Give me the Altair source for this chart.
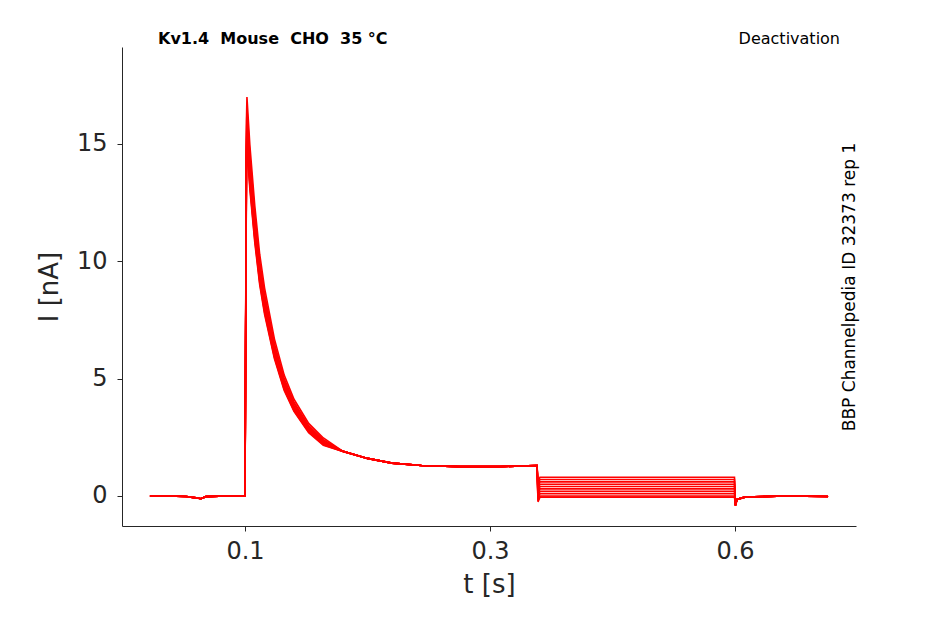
"""Kv1.4 deactivation current traces recreated with Altair."""

import pandas as pd
import altair as alt

# shared time base of the pulse (s) and the activation/inactivation current (nA)
pre_t = [0.003, 0.02, 0.04, 0.05, 0.055, 0.06, 0.08, 0.0995]
pre_i = [0.0, 0.0, -0.02, -0.08, -0.12, -0.03, 0.0, 0.0]
pulse_t = [0.1, 0.1015, 0.102, 0.105, 0.11, 0.115, 0.12, 0.13, 0.14, 0.15,
           0.165, 0.18, 0.2, 0.225, 0.25, 0.28, 0.32, 0.36, 0.398]
pulse_i = [0.0, 15.5, 16.5, 14.5, 12.0, 10.0, 8.6, 6.5, 5.0, 4.0,
           3.0, 2.4, 1.9, 1.6, 1.4, 1.3, 1.25, 1.25, 1.3]
post_t = [0.6005, 0.602, 0.61, 0.65, 0.695]
post_i = [-0.4, -0.15, -0.05, 0.0, -0.02]

# per-sweep values: peak scaling and deactivation tail level (nA)
sweep_ids = list(range(1, 11))
peak_scale = [1.03, 1.0, 0.98, 0.96, 0.95, 0.94, 0.93, 0.92, 0.91, 0.9]
tail_level = [0.8, 0.7, 0.6, 0.5, 0.4, 0.3, 0.2, 0.1, 0.0, -0.05]


def build_traces():
    rows = []
    for sid, k, tail in zip(sweep_ids, peak_scale, tail_level):
        for t, i in zip(pre_t, pre_i):
            rows.append({"sweep": sid, "t": t, "i": i})
        for t, i in zip(pulse_t, pulse_i):
            v = i * k if t < 0.2 else i
            rows.append({"sweep": sid, "t": t, "i": v})
        rows.append({"sweep": sid, "t": 0.399, "i": tail - 0.2})
        rows.append({"sweep": sid, "t": 0.401, "i": tail})
        rows.append({"sweep": sid, "t": 0.5, "i": tail})
        rows.append({"sweep": sid, "t": 0.5995, "i": tail})
        for t, i in zip(post_t, post_i):
            rows.append({"sweep": sid, "t": t, "i": i})
    return pd.DataFrame(rows)


df = build_traces()

lines = (
    alt.Chart(df)
    .mark_line(color="#ff0000", strokeWidth=1.6)
    .encode(
        x=alt.X("t:Q", title="t [s]",
                scale=alt.Scale(domain=[-0.0255, 0.7235], nice=False, zero=False),
                axis=alt.Axis(values=[0.1, 0.35, 0.6], format="~g", grid=False,
                              labelFontSize=24, titleFontSize=26, tickSize=5,
                              labelPadding=8, titlePadding=8)),
        y=alt.Y("i:Q", title="I [nA]",
                scale=alt.Scale(domain=[-1.28, 19.13], nice=False, zero=False),
                axis=alt.Axis(values=[0, 5, 10, 15], grid=False,
                              labelFontSize=24, titleFontSize=26, tickSize=5,
                              labelPadding=10, titlePadding=14)),
        detail="sweep:N",
        order="t:Q",
    )
)

font = "DejaVu Sans"
left_txt = alt.Chart(pd.DataFrame({"s": ["Kv1.4\u00a0\u00a0Mouse\u00a0\u00a0CHO\u00a0\u00a035 °C"]})).mark_text(
    align="left", baseline="middle", fontSize=16, fontWeight="bold", font=font,
    color="black").encode(x=alt.value(36), y=alt.value(-8), text="s:N")
right_txt = alt.Chart(pd.DataFrame({"s": ["Deactivation"]})).mark_text(
    align="right", baseline="middle", fontSize=16, font=font,
    color="black").encode(x=alt.value(718), y=alt.value(-8), text="s:N")
side_txt = alt.Chart(pd.DataFrame({"s": ["BBP Channelpedia ID 32373 rep 1"]})).mark_text(
    align="center", baseline="middle", fontSize=17, font=font, angle=270,
    color="black").encode(x=alt.value(728), y=alt.value(240), text="s:N")

chart = (
    alt.layer(lines, left_txt, right_txt, side_txt)
    .properties(width=734, height=479,
                autosize=alt.AutoSizeParams(type="none"),
                padding={"left": 114, "top": 39, "right": 80, "bottom": 90})
    .configure_view(stroke=None)
    .configure_axis(labelFont=font, titleFont=font, labelColor="#262626",
                    titleColor="#262626", domainColor="#262626", tickColor="#262626",
                    titleFontWeight="normal")
)

chart.save("out.html", embed_options={"renderer": "svg", "actions": False})
